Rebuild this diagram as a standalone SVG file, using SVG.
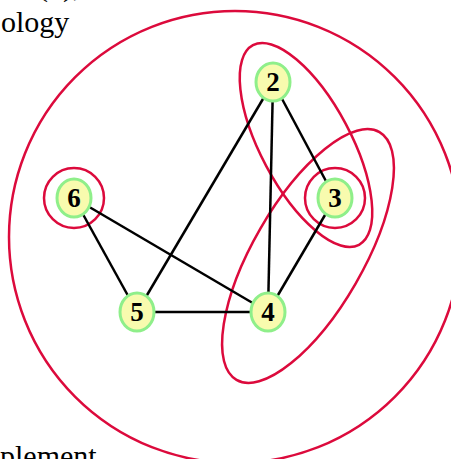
<svg xmlns="http://www.w3.org/2000/svg" width="451" height="459" viewBox="0 0 451 459">
<style>
.txt{font-family:"Liberation Serif","Times New Roman",serif;font-size:30px;fill:#000}
.ring{fill:none;stroke:#dc0a3c;stroke-width:2.5}
.edge{stroke:#000;stroke-width:2.5;fill:none}
.node ellipse{fill:#f8fbae;stroke:#8fef8a;stroke-width:3}
.node text{font-family:"Liberation Serif","Times New Roman",serif;font-size:27px;font-weight:bold;text-anchor:middle;fill:#000}
</style>
<rect width="451" height="459" fill="#fff"/>
<text class="txt" x="38" y="-4">(1),</text>
<text class="txt" x="1" y="32">ology</text>
<text class="txt" x="0" y="466">plement</text>
<g id="rings">
<circle class="ring" cx="235" cy="237" r="226"/>
<circle class="ring" cx="74" cy="198" r="30"/>
<circle class="ring" cx="335" cy="198" r="30"/>
<ellipse class="ring" cx="0" cy="0" rx="113" ry="45" transform="translate(306 145) rotate(62)"/>
<ellipse class="ring" cx="0" cy="0" rx="143" ry="55" transform="translate(308 256) rotate(120)"/>
</g>
<g id="connectors">
<line class="edge" x1="273" y1="82" x2="137" y2="312"/>
<line class="edge" x1="273" y1="82" x2="268" y2="312"/>
<line class="edge" x1="273" y1="82" x2="335" y2="198"/>
<line class="edge" x1="335" y1="198" x2="268" y2="312"/>
<line class="edge" x1="74" y1="198" x2="137" y2="312"/>
<line class="edge" x1="74" y1="198" x2="268" y2="312"/>
<line class="edge" x1="137" y1="312" x2="268" y2="312"/>
</g>
<g id="node2" class="node"><ellipse cx="273" cy="82" rx="17" ry="19"/><text x="273" y="91">2</text></g>
<g id="node3" class="node"><ellipse cx="335" cy="198" rx="17" ry="19"/><text x="335" y="207">3</text></g>
<g id="node6" class="node"><ellipse cx="74" cy="198" rx="17" ry="19"/><text x="74" y="207">6</text></g>
<g id="node5" class="node"><ellipse cx="137" cy="312" rx="17" ry="19"/><text x="137" y="321">5</text></g>
<g id="node4" class="node"><ellipse cx="268" cy="312" rx="17" ry="19"/><text x="268" y="321">4</text></g>
</svg>
